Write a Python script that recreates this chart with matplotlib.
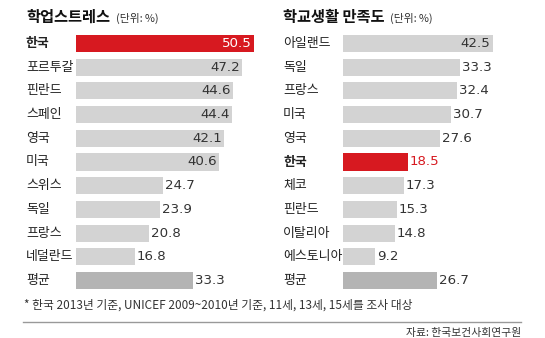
import matplotlib
matplotlib.use("Agg")
import matplotlib.pyplot as plt

plt.rcParams['font.family'] = ['Noto Sans CJK KR', 'DejaVu Sans']

# left panel: 학업스트레스
stress_labels = ['한국', '포르투갈', '핀란드', '스페인', '영국', '미국', '스위스', '독일', '프랑스', '네덜란드', '평균']
stress_values = [50.5, 47.2, 44.6, 44.4, 42.1, 40.6, 24.7, 23.9, 20.8, 16.8, 33.3]

# right panel: 학교생활 만족도
satis_labels = ['아일랜드', '독일', '프랑스', '미국', '영국', '한국', '체코', '핀란드', '이탈리아', '에스토니아', '평균']
satis_values = [42.5, 33.3, 32.4, 30.7, 27.6, 18.5, 17.3, 15.3, 14.8, 9.2, 26.7]

RED = '#d71920'
GRAY = '#d3d3d3'
AVG = '#b4b4b4'
TXT = '#333333'

W, H = 545, 338
fig = plt.figure(figsize=(W / 100, H / 100), dpi=100)
fig.patch.set_facecolor('white')

row = 23.7
top = 43.5 - row / 2
ax_h = row * 11
ax_w = 190


def panel(x0, labels, values, highlight, label_x, title, tx):
    ax = fig.add_axes([x0 / W, 1 - (top + ax_h) / H, ax_w / W, ax_h / H])
    ax.set_xlim(0, ax_w / 3.52)
    ax.set_ylim(10.5, -0.5)
    ax.axis('off')
    for i, (lab, v) in enumerate(zip(labels, values)):
        if lab == highlight:
            c = RED
        elif lab == '평균':
            c = AVG
        else:
            c = GRAY
        ax.barh(i, v, height=0.72, color=c, linewidth=0)
        if v > 35:
            tc = 'white' if lab == highlight else TXT
            ax.text(v - 0.6, i, f'{v:.1f}', ha='right', va='center',
                    fontsize=9.6, color=tc, family='Liberation Sans Narrow')
        else:
            tc = RED if lab == highlight else TXT
            ax.text(v + 0.5, i, f'{v:.1f}', ha='left', va='center',
                    fontsize=9.6, color=tc, family='Liberation Sans Narrow')
        fig.text(label_x / W, 1 - (43.5 + row * i) / H, lab, ha='left', va='center',
                 fontsize=9.3, color='#222222',
                 fontweight='bold' if lab == highlight else 'normal')
    fig.text(label_x / W, 1 - 17 / H, title, ha='left', va='center',
             fontsize=11, fontweight='bold', color='#111111')
    fig.text(tx / W, 1 - 18 / H, '(단위: %)', ha='left', va='center',
             fontsize=7.8, color=TXT)
    return ax


panel(76, stress_labels, stress_values, '한국', 26, '학업스트레스', 116)
panel(343, satis_labels, satis_values, '한국', 283, '학교생활 만족도', 390)

fig.text(24 / W, 1 - 305 / H, '* 한국 2013년 기준, UNICEF 2009~2010년 기준, 11세, 13세, 15세를 조사 대상',
         ha='left', va='center', fontsize=8.5, color=TXT)
fig.add_artist(plt.Line2D([23 / W, 521 / W], [1 - 322 / H, 1 - 322 / H], color='#999999', linewidth=1))
fig.text(521 / W, 1 - 333 / H, '자료: 한국보건사회연구원', ha='right', va='center',
         fontsize=7.8, color=TXT)

fig.savefig('out.png', dpi=100)
